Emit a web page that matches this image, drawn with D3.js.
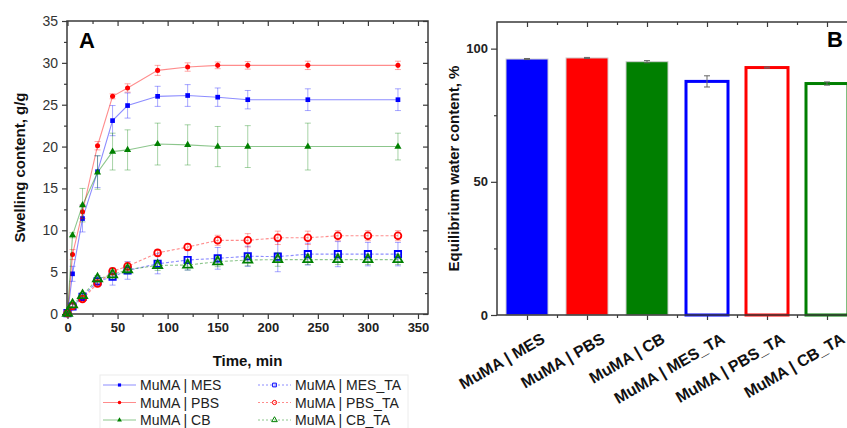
<!DOCTYPE html>
<html>
<head>
<meta charset="utf-8">
<script src="https://cdn.jsdelivr.net/npm/d3@7"></script>
<style>
  body { margin: 0; background: #fff; }
  text { font-family: "Liberation Sans", Arial, sans-serif; }
</style>
</head>
<body>
<svg id="chart" width="847" height="428"></svg>
<script>
// ---- panel A data (swelling kinetics) ----
const timeSolid = [0, 5, 15, 30, 45, 60, 90, 120, 150, 180, 240, 330];
const mes    = [0, 4.8, 11.4, 17.0, 23.1, 24.9, 26.0, 26.1, 25.9, 25.6, 25.6, 25.6];
const mesErr = [0, 0.9, 1.6, 1.9, 1.8, 1.5, 1.2, 1.3, 1.1, 1.1, 1.3, 1.3];
const pbs    = [0, 7.1, 12.2, 20.1, 26.0, 27.0, 29.1, 29.5, 29.7, 29.7, 29.7, 29.7];
const pbsErr = [0, 0.6, 0.8, 0.5, 0.3, 0.5, 0.6, 0.5, 0.4, 0.45, 0.5, 0.5];
const cb     = [0, 9.4, 13.0, 16.9, 19.4, 19.6, 20.3, 20.2, 20.0, 20.0, 20.0, 20.0];
const cbErr  = [0, 0.3, 2.0, 2.0, 2.2, 2.4, 2.5, 2.4, 2.4, 2.5, 2.8, 1.6];

const timeTA = [0, 5, 15, 30, 45, 60, 90, 120, 150, 180, 210, 240, 270, 300, 330];
const mesTA    = [0.1, 0.9, 2.05, 3.9, 4.45, 5.2, 6.0, 6.45, 6.65, 6.9, 6.85, 7.15, 7.15, 7.15, 7.15];
const mesTAErr = [0, 0.3, 0.4, 0.6, 1.0, 1.05, 1.2, 1.2, 1.3, 1.2, 1.8, 1.3, 1.5, 1.4, 1.4];
const pbsTA    = [0.1, 0.95, 1.8, 3.65, 5.1, 5.7, 7.3, 8.0, 8.8, 8.8, 9.1, 9.1, 9.35, 9.35, 9.35];
const pbsTAErr = [0, 0.2, 0.3, 0.4, 0.4, 0.5, 0.4, 0.4, 0.6, 0.8, 0.8, 0.8, 0.6, 0.6, 0.6];
const cbTA     = [0.1, 1.1, 2.2, 4.2, 4.7, 5.3, 5.8, 5.85, 6.25, 6.45, 6.5, 6.5, 6.5, 6.5, 6.5];
const cbTAErr  = [0, 0.3, 0.3, 0.4, 0.5, 0.5, 0.6, 0.6, 0.6, 0.7, 0.8, 0.6, 0.6, 0.6, 0.6];

// ---- panel B data (equilibrium water content) ----
const groups = ["MuMA | MES", "MuMA | PBS", "MuMA | CB", "MuMA | MES_TA", "MuMA | PBS_TA", "MuMA | CB_TA"];
const ewc    = [96.1, 96.5, 95.1, 87.7, 92.9, 86.9];
const ewcErr = [0.2, 0.2, 0.4, 2.1, 0.2, 0.6];

const BLUE = "#0000ff", RED = "#ff0000", GREEN = "#008000";
const AXIS = "#3a3a3a";

const svg = d3.select("#chart");

// ================= panel A =================
const A = { left: 67, right: 428, top: 21, bottom: 314 };
const x = d3.scaleLinear().domain([-0.5, 360]).range([A.left, A.right]);
const y = d3.scaleLinear().domain([0, 35]).range([A.bottom, A.top]);

const gA = svg.append("g");

function styleAxis(g) {
  g.select(".domain").remove();
  g.selectAll("line").attr("stroke", AXIS).attr("stroke-width", 1.2);
}

// minor + major ticks
const xMaj = d3.range(0, 351, 50), xMin = d3.range(25, 351, 50);
const yMaj = d3.range(0, 36, 5), yMin = d3.range(2.5, 35, 5);

gA.append("g").attr("transform", `translate(0,${A.bottom})`)
  .call(d3.axisBottom(x).tickValues(xMaj).tickSize(5).tickPadding(4))
  .call(styleAxis)
  .call(g => g.selectAll("text").attr("font-size", 13).attr("font-weight", "bold").attr("fill", "#222"));
gA.append("g").attr("transform", `translate(0,${A.bottom})`)
  .call(d3.axisBottom(x).tickValues(xMin).tickSize(3).tickFormat(""))
  .call(styleAxis);
gA.append("g").attr("transform", `translate(0,${A.top})`)
  .call(d3.axisTop(x).tickValues(xMaj).tickSize(-5).tickFormat(""))
  .call(styleAxis);
gA.append("g").attr("transform", `translate(0,${A.top})`)
  .call(d3.axisTop(x).tickValues(xMin).tickSize(-3).tickFormat(""))
  .call(styleAxis);

gA.append("g").attr("transform", `translate(${A.left},0)`)
  .call(d3.axisLeft(y).tickValues(yMaj).tickSize(5).tickPadding(4))
  .call(styleAxis)
  .call(g => g.selectAll("text").attr("font-size", 14).attr("fill", "#333"));
gA.append("g").attr("transform", `translate(${A.left},0)`)
  .call(d3.axisLeft(y).tickValues(yMin).tickSize(3).tickFormat(""))
  .call(styleAxis);
gA.append("g").attr("transform", `translate(${A.right},0)`)
  .call(d3.axisRight(y).tickValues(yMaj).tickSize(-5).tickFormat(""))
  .call(styleAxis);
gA.append("g").attr("transform", `translate(${A.right},0)`)
  .call(d3.axisRight(y).tickValues(yMin).tickSize(-3).tickFormat(""))
  .call(styleAxis);

gA.append("rect")
  .attr("x", A.left).attr("y", A.top)
  .attr("width", A.right - A.left).attr("height", A.bottom - A.top)
  .attr("fill", "none").attr("stroke", AXIS).attr("stroke-width", 1.5);

const seriesA = [
  { name: "MuMA | MES", t: timeSolid, v: mes, e: mesErr, color: BLUE, sym: d3.symbolSquare, size: 22, hollow: false },
  { name: "MuMA | PBS", t: timeSolid, v: pbs, e: pbsErr, color: RED, sym: d3.symbolCircle, size: 20, hollow: false },
  { name: "MuMA | CB", t: timeSolid, v: cb, e: cbErr, color: GREEN, sym: d3.symbolTriangle, size: 22, hollow: false },
  { name: "MuMA | MES_TA", t: timeTA, v: mesTA, e: mesTAErr, color: BLUE, sym: d3.symbolSquare, size: 40, hollow: true },
  { name: "MuMA | PBS_TA", t: timeTA, v: pbsTA, e: pbsTAErr, color: RED, sym: d3.symbolCircle, size: 36, hollow: true },
  { name: "MuMA | CB_TA", t: timeTA, v: cbTA, e: cbTAErr, color: GREEN, sym: d3.symbolTriangle, size: 36, hollow: true }
];

const line = d3.line().x(d => x(d.t)).y(d => y(d.v));

seriesA.forEach(s => {
  const pts = s.t.map((t, i) => ({ t: t, v: s.v[i], e: s.e[i] }));
  const g = gA.append("g");
  g.append("path").datum(pts)
    .attr("d", line)
    .attr("fill", "none")
    .attr("stroke", s.color)
    .attr("stroke-opacity", 0.45)
    .attr("stroke-width", 1.1)
    .attr("stroke-dasharray", s.hollow ? "3,2" : null);
  const eb = g.selectAll("g.err").data(pts.filter(d => d.e > 0)).enter().append("g")
    .attr("stroke", s.color).attr("stroke-opacity", 0.35).attr("stroke-width", 1);
  eb.append("line").attr("x1", d => x(d.t)).attr("x2", d => x(d.t))
    .attr("y1", d => y(d.v - d.e)).attr("y2", d => y(d.v + d.e));
  eb.append("line").attr("x1", d => x(d.t) - 3).attr("x2", d => x(d.t) + 3)
    .attr("y1", d => y(d.v - d.e)).attr("y2", d => y(d.v - d.e));
  eb.append("line").attr("x1", d => x(d.t) - 3).attr("x2", d => x(d.t) + 3)
    .attr("y1", d => y(d.v + d.e)).attr("y2", d => y(d.v + d.e));
  g.selectAll("path.pt").data(pts).enter().append("path")
    .attr("class", "pt")
    .attr("transform", d => `translate(${x(d.t)},${y(d.v)})`)
    .attr("d", d3.symbol().type(s.sym).size(s.size))
    .attr("fill", s.hollow ? "none" : s.color)
    .attr("stroke", s.color)
    .attr("stroke-width", s.hollow ? 1.8 : 0);
});

gA.append("text").attr("x", 79).attr("y", 48)
  .attr("font-size", 22).attr("font-weight", "bold").text("A");
gA.append("text").attr("x", (A.left + A.right) / 2).attr("y", 366)
  .attr("text-anchor", "middle").attr("font-size", 15).attr("font-weight", "bold").attr("fill", "#111")
  .text("Time, min");
gA.append("text")
  .attr("transform", `translate(25,${(A.top + A.bottom) / 2}) rotate(-90)`)
  .attr("text-anchor", "middle").attr("font-size", 15).attr("font-weight", "bold").attr("fill", "#111")
  .text("Swelling content, g/g");

// legend
const leg = gA.append("g");
leg.append("rect").attr("x", 100).attr("y", 375).attr("width", 308).attr("height", 60)
  .attr("fill", "none").attr("stroke", "#ececec").attr("stroke-width", 1);
seriesA.forEach((s, i) => {
  const col = i < 3 ? 0 : 1, row = i % 3;
  const lx = col === 0 ? 103 : 258, ly = 385 + row * 17.5;
  leg.append("line").attr("x1", lx).attr("x2", lx + 33).attr("y1", ly).attr("y2", ly)
    .attr("stroke", s.color).attr("stroke-opacity", 0.45).attr("stroke-width", 1.1)
    .attr("stroke-dasharray", s.hollow ? "2,2" : null);
  leg.append("path").attr("transform", `translate(${lx + 16.5},${ly})`)
    .attr("d", d3.symbol().type(s.sym).size(s.hollow ? 14 : 10))
    .attr("fill", s.hollow ? "none" : s.color)
    .attr("stroke", s.color).attr("stroke-width", s.hollow ? 1 : 0);
  leg.append("text").attr("x", lx + 37).attr("y", ly + 5)
    .attr("font-size", 14).attr("fill", "#222").text(s.name);
});

// ================= panel B =================
const B = { left: 497, right: 857, top: 22, bottom: 315 };
const xb = d3.scaleBand().domain(groups).range([B.left, B.right]).paddingInner(0.3).paddingOuter(0.15);
const yb = d3.scaleLinear().domain([0, 110]).range([B.bottom, B.top]);
const gB = svg.append("g");

const centers = groups.map(g => xb(g) + xb.bandwidth() / 2);
const step = xb.step();
const bounds = groups.map(g => xb(g) + xb.bandwidth() / 2 + step / 2);
const xc = d3.scaleLinear().domain([B.left, B.right]).range([B.left, B.right]);

gB.append("g").attr("transform", `translate(0,${B.bottom})`)
  .call(d3.axisBottom(xc).tickValues(centers).tickSize(5).tickFormat(""))
  .call(styleAxis);
gB.append("g").attr("transform", `translate(0,${B.bottom})`)
  .call(d3.axisBottom(xc).tickValues(bounds).tickSize(3).tickFormat(""))
  .call(styleAxis);
gB.append("g").attr("transform", `translate(0,${B.top})`)
  .call(d3.axisTop(xc).tickValues(centers).tickSize(-5).tickFormat(""))
  .call(styleAxis);
gB.append("g").attr("transform", `translate(0,${B.top})`)
  .call(d3.axisTop(xc).tickValues(bounds).tickSize(-3).tickFormat(""))
  .call(styleAxis);
gB.append("g").attr("transform", `translate(${B.left},0)`)
  .call(d3.axisLeft(yb).tickValues([0, 50, 100]).tickSize(6).tickPadding(3))
  .call(styleAxis)
  .call(g => g.selectAll("text").attr("font-size", 13).attr("font-weight", "bold").attr("fill", "#222"));
gB.append("g").attr("transform", `translate(${B.left},0)`)
  .call(d3.axisLeft(yb).tickValues([25, 75]).tickSize(3).tickFormat(""))
  .call(styleAxis);

gB.selectAll("rect.bar").data(groups).enter().append("rect")
  .attr("class", "bar")
  .attr("x", d => xb(d)).attr("width", xb.bandwidth())
  .attr("y", (d, i) => yb(ewc[i])).attr("height", (d, i) => yb(0) - yb(ewc[i]))
  .attr("fill", (d, i) => i < 3 ? [BLUE, RED, "#007f00"][i] : "#fff")
  .attr("stroke", (d, i) => i < 3 ? "#cfcfcf" : [BLUE, RED, "#007f00"][i - 3])
  .attr("stroke-width", (d, i) => i < 3 ? 1 : 3);

const ebB = gB.selectAll("g.err").data(groups).enter().append("g")
  .attr("stroke", "#666").attr("stroke-width", 1);
ebB.append("line").attr("x1", d => xb(d) + xb.bandwidth() / 2).attr("x2", d => xb(d) + xb.bandwidth() / 2)
  .attr("y1", (d, i) => yb(ewc[i] - ewcErr[i])).attr("y2", (d, i) => yb(ewc[i] + ewcErr[i]));
[-1, 1].forEach(sg => {
  ebB.append("line").attr("x1", d => xb(d) + xb.bandwidth() / 2 - 3).attr("x2", d => xb(d) + xb.bandwidth() / 2 + 3)
    .attr("y1", (d, i) => yb(ewc[i] + sg * ewcErr[i])).attr("y2", (d, i) => yb(ewc[i] + sg * ewcErr[i]));
});

gB.append("path")
  .attr("d", `M${B.right},${B.top}H${B.left}V${B.bottom}H${B.right}`)
  .attr("fill", "none").attr("stroke", AXIS).attr("stroke-width", 1.5);

gB.selectAll("text.cat").data(groups).enter().append("text")
  .attr("class", "cat")
  .attr("transform", d => `translate(${xb(d) + xb.bandwidth() / 2 + 19},${B.bottom + 27}) rotate(-30)`)
  .attr("text-anchor", "end").attr("font-size", 16).attr("font-weight", "bold").attr("fill", "#111")
  .text(d => d);

gB.append("text").attr("x", 835).attr("y", 47).attr("text-anchor", "middle")
  .attr("font-size", 22).attr("font-weight", "bold").text("B");
gB.append("text")
  .attr("transform", `translate(459,${(B.top + B.bottom) / 2}) rotate(-90)`)
  .attr("text-anchor", "middle").attr("font-size", 15).attr("font-weight", "bold").attr("fill", "#111")
  .text("Equilibrium water content, %");
</script>
</body>
</html>
